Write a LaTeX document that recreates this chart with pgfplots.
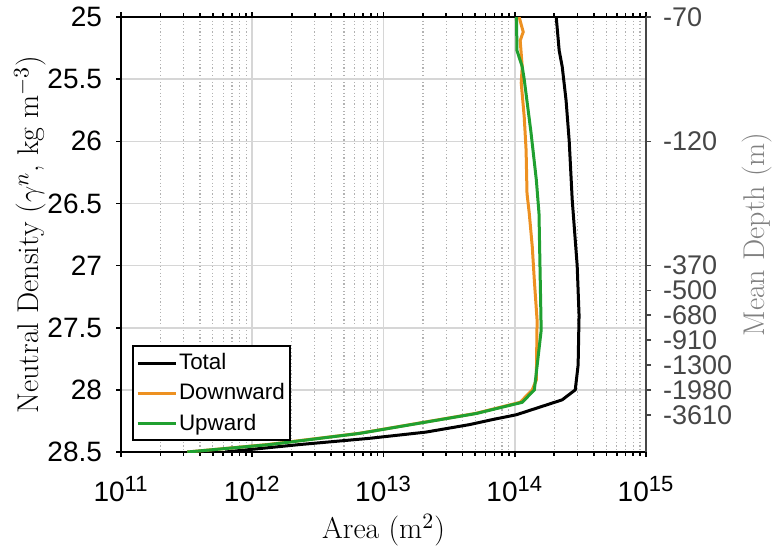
\documentclass[border=0pt]{standalone}
\usepackage{fontspec}
\setsansfont{Liberation Sans}
\usepackage{pgfplots}
\pgfplotsset{compat=1.18}
\definecolor{dnorange}{RGB}{237,145,33}
\definecolor{upgreen}{RGB}{32,160,48}
\definecolor{depthgray}{RGB}{70,70,70}
\newcommand{\tickfont}{\fontsize{14}{15}\selectfont}
\newcommand{\lblfont}{\fontsize{15}{16}\selectfont}
\newcommand{\tenpow}[1]{10\textsuperscript{\fontsize{11}{12}\selectfont #1}}

\begin{document}
\begin{tikzpicture}
\path[use as bounding box] (-60.5pt,-48pt) rectangle (326pt,226pt);
\begin{axis}[
    at={(0pt,0pt)}, anchor=south west,
    scale only axis, width=262.5pt, height=217.5pt,
    xmode=log, xmin=1e11, xmax=1e15,
    ymin=25, ymax=28.5, y dir=reverse,
    xtick={1e11,1e12,1e13,1e14,1e15},
    xticklabels={\tenpow{11},\tenpow{12},\tenpow{13},\tenpow{14},\tenpow{15}},
    ytick={25,25.5,26,26.5,27,27.5,28,28.5},
    yticklabels={25,25.5,26,26.5,27,27.5,28,28.5},
    minor y tick num=0,
    xtick pos=both, ytick pos=left,
    tick align=outside, major tick length=2.5pt, minor tick length=1.8pt,
    tick style={black, line width=0.8pt},
    tick label style={font=\sffamily\tickfont},
    xticklabel style={yshift=-6pt},
    yticklabel style={xshift=-3.5pt},
    grid=both,
    major grid style={black!16, line width=0.8pt},
    minor grid style={black!30, dash pattern=on 0.6pt off 1.2pt, line width=0.6pt},
    axis line style={line width=1.2pt},
    xlabel={Area (m$^2$)}, ylabel={Neutral Density ($\gamma^n$, kg m$^{-3}$)},
    label style={font=\lblfont},
    xlabel style={yshift=1pt},
    ylabel style={at={(axis description cs:-0.173,0.5)}, anchor=center},
    legend style={at={(0.021,0.025)}, anchor=south west, draw=black, line width=1pt,
        font=\sffamily\fontsize{11.2}{12}\selectfont, inner sep=1.5pt, row sep=1.5pt,
        nodes={inner xsep=1pt}, cells={anchor=west}},
    legend image code/.code={\draw[#1] (0pt,0pt) -- (19pt,0pt);},
]
\addplot[black, line width=1.5pt] table {
2.07e14 25.0
2.18e14 25.27
2.30e14 25.40
2.46e14 25.67
2.60e14 26.0
2.74e14 26.47
2.99e14 27.0
3.09e14 27.4
3.04e14 27.8
2.89e14 28.0
2.30e14 28.08
1.03e14 28.2
6.7e13 28.24
4.5e13 28.28
2.1e13 28.34
7.8e12 28.39
2.3e12 28.44
6.2e11 28.5
};
\addlegendentry{Total}
\addplot[dnorange, line width=1.5pt] table {
1.08e14 25.0
1.16e14 25.12
1.10e14 25.19
1.14e14 25.4
1.12e14 25.53
1.18e14 25.8
1.22e14 26.07
1.24e14 26.42
1.29e14 26.58
1.36e14 26.85
1.41e14 27.12
1.48e14 27.44
1.46e14 27.92
1.36e14 28.0
1.10e14 28.1
5.0e13 28.19
6.5e12 28.35
1.3e12 28.44
3.2e11 28.5
};
\addlegendentry{Downward}
\addplot[upgreen, line width=1.5pt] table {
1.03e14 25.0
1.04e14 25.27
1.14e14 25.4
1.18e14 25.5
1.33e14 25.93
1.46e14 26.31
1.53e14 26.58
1.59e14 27.52
1.41e14 28.0
1.14e14 28.1
5.1e13 28.19
6.6e12 28.35
1.36e12 28.44
3.2e11 28.5
};
\addlegendentry{Upward}
\end{axis}
\begin{axis}[
    at={(0pt,0pt)}, anchor=south west,
    scale only axis, width=262.5pt, height=217.5pt,
    xmode=log, xmin=1e11, xmax=1e15,
    ymin=25, ymax=28.5, y dir=reverse,
    axis x line=none, axis y line*=right,
    ytick={25,26,27,27.2,27.4,27.6,27.8,28,28.2},
    yticklabels={-70,-120,-370,-500,-680,-910,-1300,-1980,-3610},
    tick align=outside, major tick length=2.5pt,
    tick style={depthgray, line width=0.8pt},
    axis line style={depthgray, line width=1.2pt},
    tick label style={font=\sffamily\fontsize{13.5}{14}\selectfont, text=depthgray},
    yticklabel style={xshift=2.5pt, inner ysep=0pt},
    ylabel={Mean Depth (m)},
    label style={font=\lblfont, text=black!50},
    ylabel style={at={(axis description cs:1.211,0.5)}, anchor=center},
]
\end{axis}
\end{tikzpicture}
\end{document}
